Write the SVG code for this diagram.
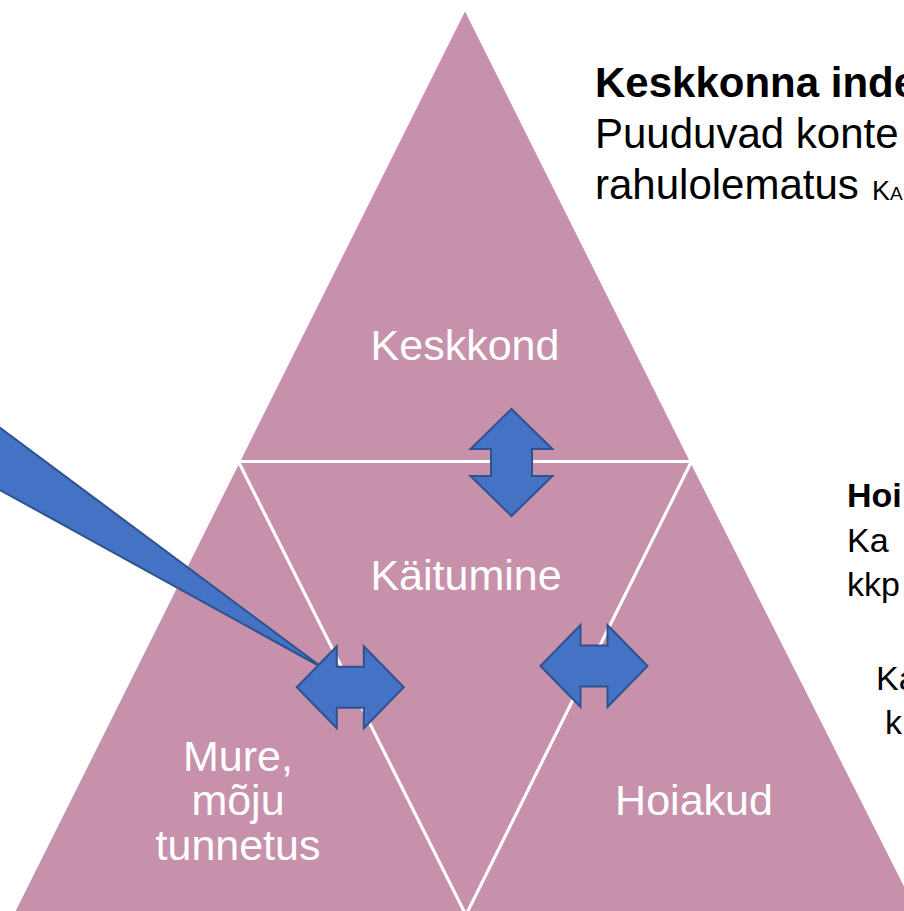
<svg xmlns="http://www.w3.org/2000/svg" xmlns:xlink="http://www.w3.org/1999/xlink" width="904" height="911" viewBox="0 0 904 911">
  <style>
    .tri { fill: #C791AC; stroke: #FFFFFF; stroke-width: 3; stroke-linejoin: miter; }
    .lbl { font-family: "Liberation Sans", Arial, sans-serif; font-size: 43px; fill: #FFFFFF; text-anchor: middle; }
    .side { font-family: "Liberation Sans", Arial, sans-serif; fill: #000000; }
    .arrow { fill: #4472C4; stroke: #2F528F; stroke-width: 2; stroke-linejoin: miter; }
  </style>
  <defs>
    <path id="dblArrow" d="M-53.5,0 L-13.5,-41 L-13.5,-20.5 L13.5,-20.5 L13.5,-41 L53.5,0 L13.5,41 L13.5,20.5 L-13.5,20.5 L-13.5,41 Z"/>
  </defs>
  <rect x="0" y="0" width="904" height="911" fill="#FFFFFF"/>

  <g id="keskkond">
    <polygon class="tri" points="465,8 238.5,461.5 691.5,461.5"/>
    <text class="lbl" x="465" y="360">Keskkond</text>
  </g>
  <g id="mure">
    <polygon class="tri" points="238.5,461.5 12,915 466,915"/>
    <text class="lbl" x="238" y="771">Mure,</text>
    <text class="lbl" x="238" y="815">mõju</text>
    <text class="lbl" x="238" y="860">tunnetus</text>
  </g>
  <g id="kaitumine">
    <polygon class="tri" points="238.5,461.5 691.5,461.5 466,915"/>
    <text class="lbl" x="466" y="590">Käitumine</text>
  </g>
  <g id="hoiakud">
    <polygon class="tri" points="691.5,461.5 466,915 920,915"/>
    <text class="lbl" x="694" y="815">Hoiakud</text>
  </g>

  <g id="keskkonna-tekst" class="side">
    <text x="595" y="97" font-size="42" font-weight="bold">Keskkonna inde</text>
    <text x="595" y="148" font-size="42">Puuduvad konte</text>
    <text x="595" y="199" font-size="42">rahulolematus</text>
    <text x="872" y="200" font-size="27" font-variant="small-caps">Ka</text>
  </g>
  <g id="hoiakute-tekst" class="side">
    <text x="847" y="507" font-size="34" font-weight="bold">Hoi</text>
    <text x="847" y="552" font-size="34">Ka</text>
    <text x="847" y="596" font-size="34">kkp</text>
    <text x="876" y="690" font-size="34">Ka</text>
    <text x="885" y="734" font-size="34">k</text>
  </g>

  <g id="connectors">
    <polygon id="wedge" class="arrow" stroke-width="1.5" points="-40,398 323,668 -40,468"/>
    <use href="#dblArrow" xlink:href="#dblArrow" class="arrow" transform="translate(511.5,462.5) rotate(90)"/>
    <use href="#dblArrow" xlink:href="#dblArrow" class="arrow" transform="translate(350.3,687.3)"/>
    <use href="#dblArrow" xlink:href="#dblArrow" class="arrow" transform="translate(594,666)"/>
  </g>
</svg>
